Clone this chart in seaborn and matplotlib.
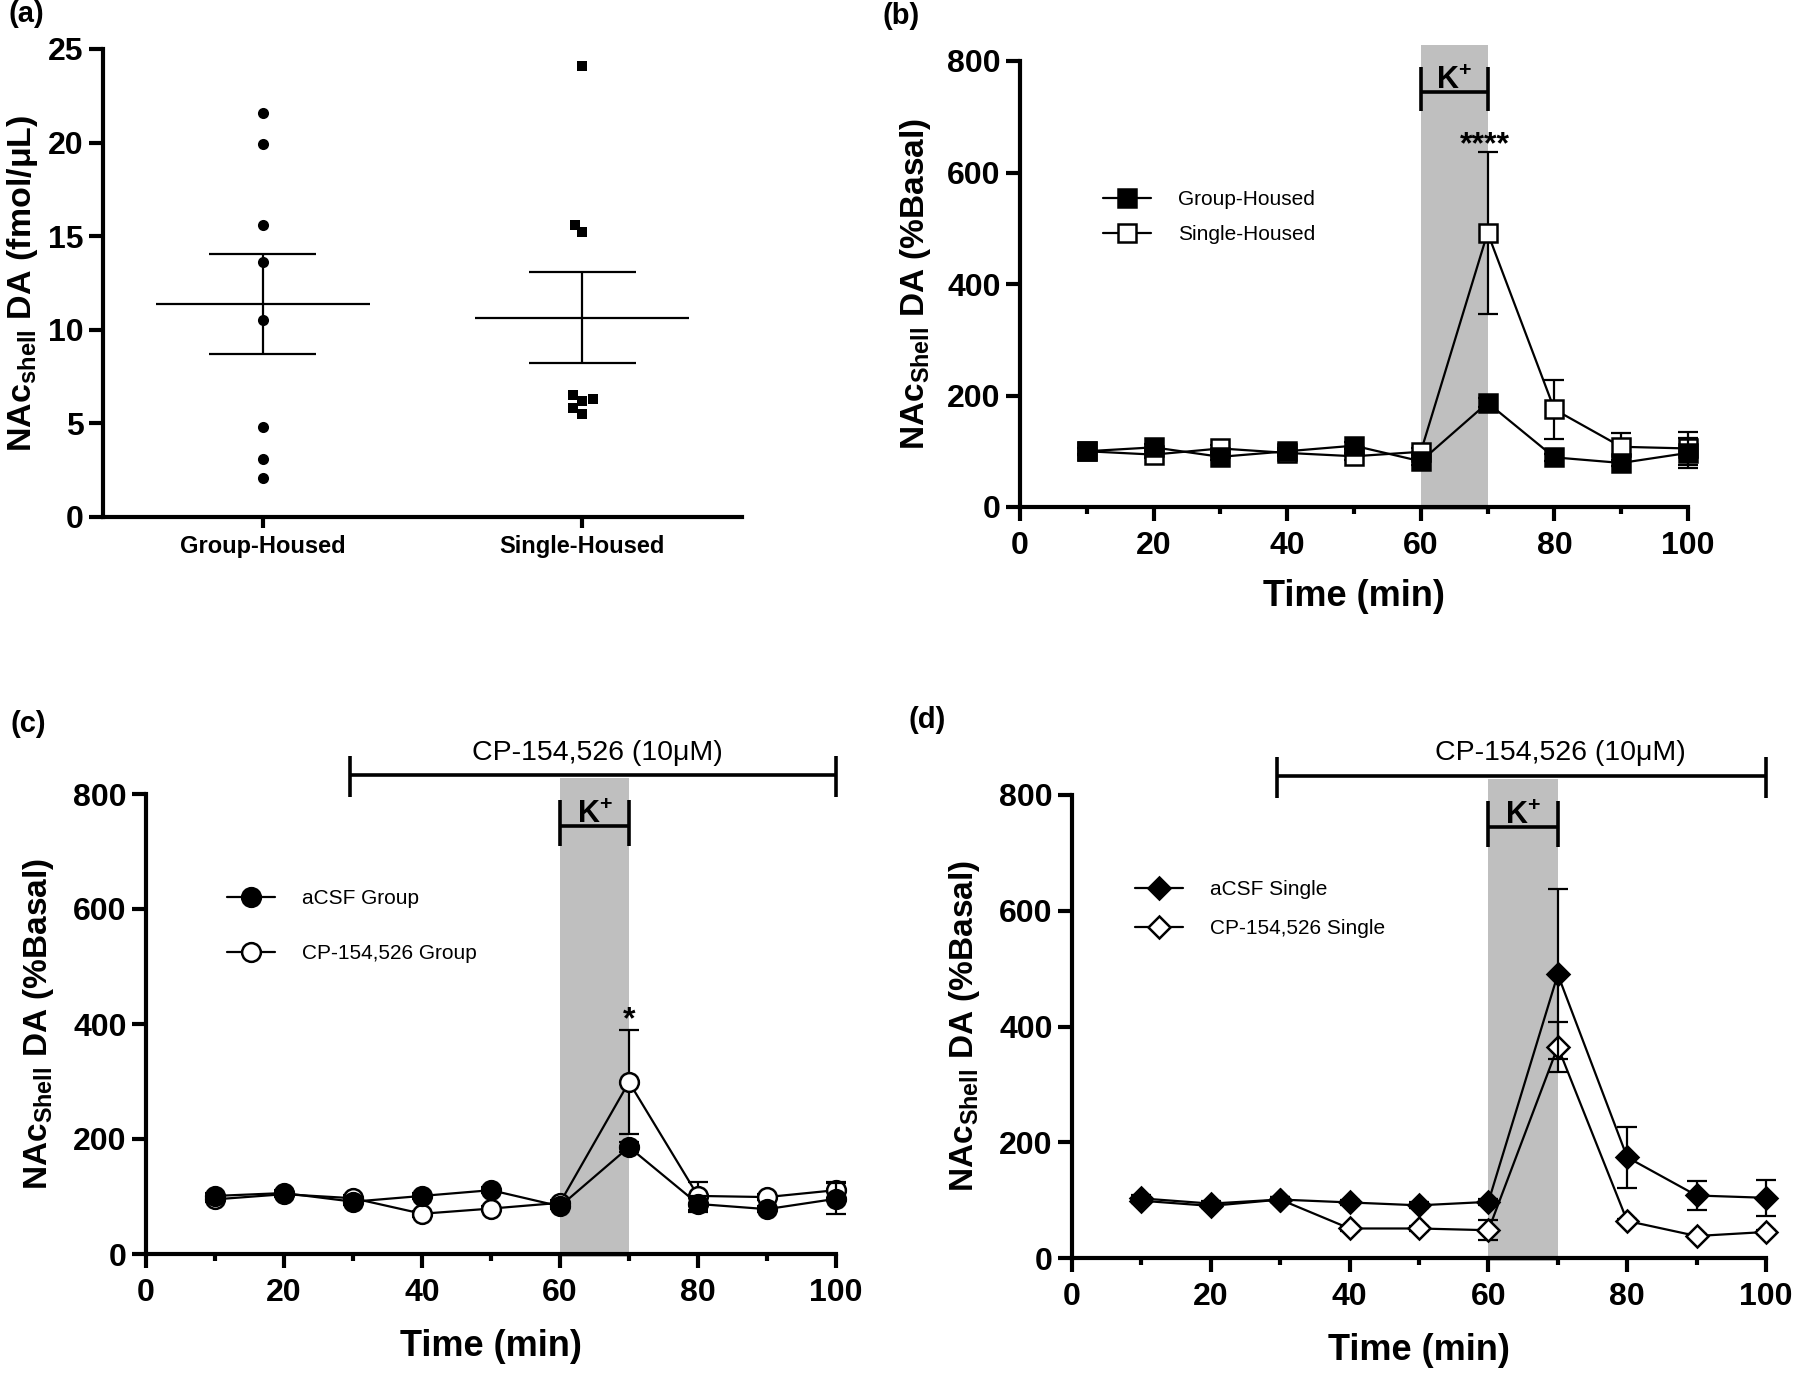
import numpy as np
import pandas as pd
import matplotlib
matplotlib.use("Agg")
import matplotlib.pyplot as plt
from matplotlib.lines import Line2D
from matplotlib.patches import Rectangle
import seaborn as sns

# ---------------- data ----------------
categories = ["Group-Housed", "Single-Housed"]
group_housed_vals = [21.6, 19.9, 15.6, 13.6, 10.5, 4.8, 3.1, 2.1]
single_housed_vals = [24.1, 15.6, 15.2, 6.5, 6.3, 6.2, 5.8, 5.5]
cat_means = [11.4, 10.65]
cat_sems = [2.67, 2.43]

time_min = [10, 20, 30, 40, 50, 60, 70, 80, 90, 100]

b_group = [100, 107, 90, 100, 110, 82, 187, 89, 79, 97]
b_group_sem = [5, 6, 5, 5, 6, 6, 8, 6, 5, 27]
b_single = [100, 94, 105, 97, 91, 99, 492, 175, 108, 105]
b_single_sem = [6, 6, 6, 6, 6, 6, 145, 53, 25, 30]

c_acsf = [101, 106, 91, 101, 111, 83, 186, 87, 78, 96]
c_acsf_sem = [5, 5, 5, 5, 5, 5, 8, 14, 5, 27]
c_cp = [95, 104, 97, 70, 79, 89, 299, 101, 99, 111]
c_cp_sem = [5, 5, 5, 5, 5, 5, 90, 24, 5, 14]

d_acsf = [103, 94, 101, 96, 91, 97, 490, 174, 108, 104]
d_acsf_sem = [5, 5, 5, 5, 5, 5, 147, 53, 25, 31]
d_cp = [99, 90, 101, 51, 51, 48, 365, 64, 38, 45]
d_cp_sem = [4, 4, 4, 4, 4, 17, 43, 4, 4, 4]

K_START, K_END = 60, 70
CP_START, CP_END = 29.5, 100

# ---------------- style ----------------
sns.set_theme(style="ticks")
plt.rcParams["font.family"] = ["Liberation Sans", "DejaVu Sans"]
plt.rcParams["font.weight"] = "bold"
plt.rcParams["mathtext.fontset"] = "custom"
plt.rcParams["mathtext.rm"] = "Liberation Sans:bold"
plt.rcParams["mathtext.bf"] = "Liberation Sans:bold"
plt.rcParams["mathtext.it"] = "Liberation Sans:bold"
plt.rcParams["mathtext.default"] = "bf"
plt.rcParams["axes.linewidth"] = 3.0
for key in ("text.color", "axes.labelcolor", "xtick.color", "ytick.color", "axes.edgecolor"):
    plt.rcParams[key] = "black"

W, H = 1800, 1374
fig = plt.figure(figsize=(W / 100, H / 100), dpi=100)


def px_axes(l, r, t, b):
    return fig.add_axes([l / W, 1 - b / H, (r - l) / W, (b - t) / H])


ax_a = px_axes(103, 742, 49, 517)
ax_b = px_axes(1020, 1688, 61, 507)
ax_c = px_axes(146, 836, 794, 1254)
ax_d = px_axes(1072, 1766, 795, 1258)

SPINE_W = 3.0
LW = 1.6
GRAY = "#bfbfbf"

for ax in (ax_a, ax_b, ax_c, ax_d):
    for s in ("top", "right"):
        ax.spines[s].set_visible(False)
    for s in ("left", "bottom"):
        ax.spines[s].set_linewidth(SPINE_W)
        ax.spines[s].set_color("black")
    ax.tick_params(axis="both", which="major", length=10, width=SPINE_W,
                   labelsize=23, pad=4, color="black", labelcolor="black")
    ax.set_facecolor("white")

# ---------------- panel (a) ----------------
dfa = pd.DataFrame({
    "group": [categories[0]] * len(group_housed_vals) + [categories[1]] * len(single_housed_vals),
    "val": group_housed_vals + single_housed_vals,
})
sns.swarmplot(data=dfa[dfa.group == categories[0]], x="group", y="val", order=categories,
              color="black", marker="o", size=8, linewidth=0, ax=ax_a, zorder=3)
sns.swarmplot(data=dfa[dfa.group == categories[1]], x="group", y="val", order=categories,
              color="black", marker="s", size=7.5, linewidth=0, ax=ax_a, zorder=3)
for i, (m, s) in enumerate(zip(cat_means, cat_sems)):
    ax_a.hlines(m, i - 0.335, i + 0.335, color="black", lw=LW, zorder=2)
    ax_a.hlines([m - s, m + s], i - 0.167, i + 0.167, color="black", lw=LW, zorder=2)
    ax_a.vlines(i, m - s, m + s, color="black", lw=LW, zorder=2)
ax_a.set_xlim(-0.5, 1.5)
ax_a.set_ylim(0, 25)
ax_a.set_yticks([0, 5, 10, 15, 20, 25])
ax_a.set_xlabel("")
ax_a.set_ylabel(r"NAc$_{shell}$ DA (fmol/μL)", fontsize=24.5, fontweight="bold")
ax_a.yaxis.set_label_coords(-0.098, 0.5)
ax_a.tick_params(axis="x", labelsize=17, length=8, pad=5)


# ---------------- line panels helper ----------------
def line_panel(ax, filled, filled_sem, opened, opened_sem, marker, ms, labels,
               leg_xy, labelspacing):
    ax.add_patch(Rectangle((K_START, -6), K_END - K_START, 834, color=GRAY,
                           lw=0, zorder=0, clip_on=False))
    # open series first, filled on top
    for vals, sems, face, z in ((opened, opened_sem, "white", 3), (filled, filled_sem, "black", 4)):
        ax.errorbar(time_min, vals, yerr=sems, fmt="none", ecolor="black",
                    elinewidth=LW, capsize=7, capthick=LW, zorder=z - 0.5, clip_on=False)
        sns.lineplot(x=time_min, y=vals, ax=ax, color="black", linewidth=LW,
                     marker=marker, markersize=ms, markerfacecolor=face,
                     markeredgecolor="black", markeredgewidth=1.8,
                     errorbar=None, zorder=z, clip_on=False)
    ax.set_xlim(0, 100)
    ax.set_ylim(0, 800)
    ax.set_xticks([0, 20, 40, 60, 80, 100])
    ax.set_xticks([10, 30, 50, 70, 90], minor=True)
    ax.set_yticks([0, 200, 400, 600, 800])
    ax.tick_params(axis="x", which="minor", length=5, width=SPINE_W, color="black")
    ax.tick_params(axis="x", which="major", pad=7)
    ax.set_xlabel("Time (min)", fontsize=26, fontweight="bold")
    ax.xaxis.set_label_coords(0.5, -0.162)
    ax.set_ylabel(r"NAc$_{Shell}$ DA (%Basal)", fontsize=24, fontweight="bold")
    ax.yaxis.set_label_coords(-0.13, 0.5)
    # K+ bracket
    kw = dict(color="black", lw=2.6, clip_on=False, solid_capstyle="butt")
    ax.plot([K_START, K_END], [745, 745], **kw)
    ax.plot([K_START, K_START], [710, 790], **kw)
    ax.plot([K_END, K_END], [710, 790], **kw)
    ax.text((K_START + K_END) / 2, 738, r"K$^{+}$", ha="center", va="bottom",
            fontsize=22, fontweight="bold", clip_on=False)
    handles = [
        Line2D([], [], color="black", lw=LW, marker=marker, markersize=ms,
               markerfacecolor="black", markeredgecolor="black", markeredgewidth=1.8),
        Line2D([], [], color="black", lw=LW, marker=marker, markersize=ms,
               markerfacecolor="white", markeredgecolor="black", markeredgewidth=1.8),
    ]
    ax.legend(handles, labels, loc="center left", bbox_to_anchor=leg_xy,
              bbox_transform=ax.transData, frameon=False, borderpad=0,
              borderaxespad=0, handlelength=2.3, handletextpad=1.3,
              labelspacing=labelspacing, numpoints=1,
              prop={"size": 15, "weight": "normal"})


def cp_bar(ax, text_x):
    kw = dict(color="black", lw=2.6, clip_on=False, solid_capstyle="butt")
    ax.plot([CP_START, CP_END], [833, 833], **kw)
    ax.plot([CP_START, CP_START], [795, 866], **kw)
    ax.plot([CP_END, CP_END], [795, 866], **kw)
    ax.text(text_x, 872, "CP-154,526 (10μM)", ha="center", va="center",
            fontsize=20.5, fontweight="normal", clip_on=False)


# ---------------- panel (b) ----------------
line_panel(ax_b, b_group, b_group_sem, b_single, b_single_sem, "s", 13,
           ["Group-Housed", "Single-Housed"], (12.4, 520), 0.75)
ax_b.text(69.6, 675, "****", ha="center", va="top", fontsize=23, fontweight="bold")

# ---------------- panel (c) ----------------
line_panel(ax_c, c_acsf, c_acsf_sem, c_cp, c_cp_sem, "o", 13.5,
           ["aCSF Group", "CP-154,526 Group"], (11.7, 570), 1.75)
cp_bar(ax_c, 65.4)
ax_c.text(70, 432, "*", ha="center", va="top", fontsize=23, fontweight="bold")

# ---------------- panel (d) ----------------
line_panel(ax_d, d_acsf, d_acsf_sem, d_cp, d_cp_sem, "D", 11,
           ["aCSF Single", "CP-154,526 Single"], (9.1, 603), 0.95)
cp_bar(ax_d, 70.3)

# ---------------- panel letters ----------------
for lab, x, y in (("(a)", 8, 0), ("(b)", 882, 2), ("(c)", 10, 710), ("(d)", 908, 706)):
    fig.text(x / W, 1 - y / H, lab, ha="left", va="top", fontsize=21, fontweight="bold")

fig.savefig("out.png", dpi=100, facecolor="white")
